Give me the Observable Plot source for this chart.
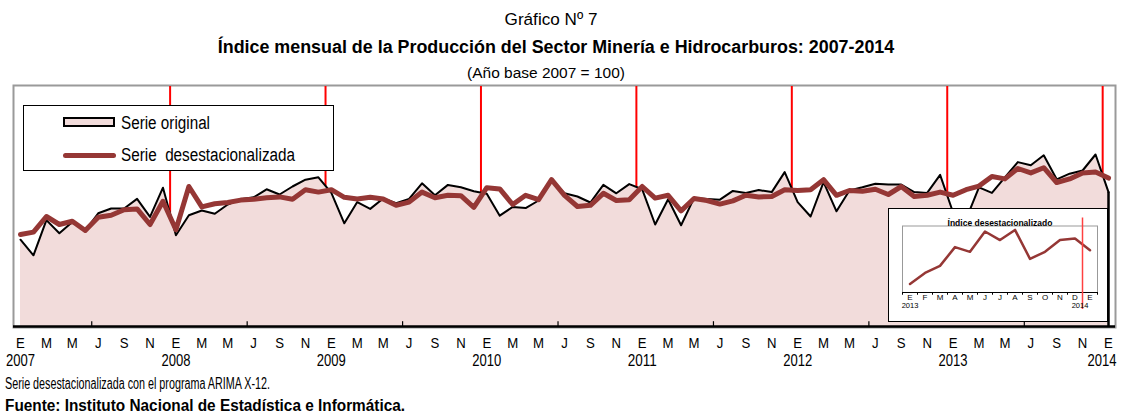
<!DOCTYPE html>
<html><head><meta charset="utf-8">
<script src="https://cdn.jsdelivr.net/npm/d3@7"></script>
<script src="https://cdn.jsdelivr.net/npm/@observablehq/plot@0.6"></script>
<style>
body{margin:0;background:#fff;}
#wrap{position:relative;width:1123px;height:414px;overflow:hidden;font-family:"Liberation Sans Narrow","Arial Narrow","Liberation Sans",Arial,sans-serif;color:#000;}
.t{position:absolute;white-space:pre;line-height:1;}
.c{transform:translate(-50%,-50%);}
.l{transform:translateY(-50%);transform-origin:0 50%;}
#chart{position:absolute;left:0;top:82px;}
#legend{position:absolute;left:23px;top:105px;width:311px;height:66px;border:1px solid #000;background:#fff;box-sizing:border-box;}
#inset{position:absolute;left:888px;top:208px;width:220px;height:114px;border:1.5px solid #000;background:#fff;box-sizing:border-box;}
#inset svg{position:absolute;left:0;top:0;}
</style></head><body>
<div id="wrap">
  <div class="t c" id="g7" style="left:551px;top:20px;font-size:15px">Gráfico Nº 7</div>
  <div class="t c" id="ttl" style="left:556px;top:48px;font-size:18px;font-weight:bold">Índice mensual de la Producción del Sector Minería e Hidrocarburos: 2007-2014</div>
  <div class="t c" id="sub" style="left:546px;top:73px;font-size:15px">(Año base 2007 = 100)</div>
  <div id="chart"></div>
  <div id="legend">
    <div style="position:absolute;left:39px;top:11px;width:52px;height:10px;background:#F2DCDB;border:2.7px solid #000;box-sizing:border-box"></div>
    <div style="position:absolute;left:39px;top:46.5px;width:53px;height:5px;background:#953735;border-radius:3px"></div>
    <div class="t l" id="lg1" style="left:97px;top:17px;font-size:18px">Serie original</div>
    <div class="t l" id="lg2" style="left:97px;top:49px;font-size:18px">Serie  desestacionalizada</div>
  </div>
  <div id="inset"></div>
  <div class="t l" id="cap1" style="left:5px;top:384px;font-size:16px">Serie desestacionalizada con el programa ARIMA X-12.</div>
  <div class="t l" id="cap2" style="left:5px;top:406px;font-size:16px;font-weight:bold">Fuente: Instituto Nacional de Estadística e Informática.</div>
</div>
<script>
// ---- data ----
const startYear = 2007;
const monthLetters = ["E","F","M","A","M","J","J","A","S","O","N","D"];
// Serie original (índice, ene-2007 ... ene-2014)
const original = [
  95.7, 91.8,100.6, 97.3,100.1, 98.0,102.3,103.5,103.5,105.9,101.4,108.7,
  96.8,101.8,103.0,102.2,104.5,105.8,106.3,108.3,107.0,109.0,110.7,111.3,
 107.4, 99.8,105.1,103.4,106.0,104.8,105.9,109.8,106.8,109.4,108.8,107.8,
 107.2,101.7,103.9,103.6,105.5,110.5,107.3,106.5,105.0,109.4,107.3,109.6,
 108.3, 99.5,105.8, 99.3,106.1,105.9,105.7,107.9,107.4,108.1,107.6,112.6,
 105.1,101.5,110.1,102.8,108.0,108.8,109.7,109.5,109.5,107.6,107.4,111.9,
 102.5,100.8,108.8,107.4,111.3,115.1,114.3,116.8,110.8,112.2,113.0,117.0,
 107.6];
// Serie desestacionalizada
const desest = [
  97.0, 97.6,101.5, 99.5,100.3, 98.0,101.3,101.8,103.2,103.4, 99.5,105.3,
  98.2,109.0,103.9,104.7,105.0,105.6,105.8,106.2,106.4,105.8,108.2,107.6,
 108.2,106.3,105.9,106.3,105.9,104.3,105.1,107.6,106.2,106.8,106.7,103.8,
 108.7,108.4,104.5,106.8,105.7,110.7,106.8,104.0,104.3,107.3,105.5,105.7,
 109.0,106.1,106.8,102.9,106.0,105.5,104.6,105.4,106.8,106.4,106.5,108.2,
 108.0,108.2,110.7,106.8,108.0,107.8,108.3,107.0,109.0,106.5,106.8,107.6,
 106.8,108.2,109.1,111.5,110.9,113.5,112.4,113.7,110.0,110.9,112.4,112.6,
 111.1];
const insetTitle = "Índice desestacionalizado";

// ---- derived tables ----
const FONT = '"Liberation Sans Narrow","Arial Narrow","Liberation Sans",Arial,sans-serif';
const data = original.map((v, i) => ({i, orig: v, sa: desest[i]}));
const nMonths = data.length - 1;
const yMin = 74, yMax = 134;
const monthTicks = d3.range(0, nMonths + 1, 2);
const yearTicks = d3.range(0, nMonths, 12);
const yearBreaks = d3.range(12, nMonths + 1, 12).map(d => d - 0.45);
const majorTicks = d3.range(5.5, nMonths, 12);
const last = data[data.length - 1];
const yearLabel = d => String(startYear + d / 12);

const main = Plot.plot({
  width: 1123, height: 290,
  marginLeft: 20, marginRight: 15, marginTop: 4, marginBottom: 46,
  x: {domain: [0, nMonths], axis: null},
  y: {domain: [yMin, yMax], axis: null},
  style: {background: "transparent", overflow: "visible", fontFamily: FONT, color: "#000"},
  marks: [
    Plot.frame({stroke: "#9a9a9a", strokeWidth: 2, insetLeft: -7, insetRight: -7, insetTop: -1, insetBottom: -1}),
    Plot.ruleX(yearBreaks, {x: d => d, stroke: "#ff0000", strokeWidth: 2}),
    Plot.area(data, {x1: "i", y1: () => yMin, y2: "orig", fill: "#F2DCDB"}),
    Plot.line(data, {x: "i", y: "orig", stroke: "#000", strokeWidth: 2}),
    Plot.ruleX([last], {x: "i", y1: () => yMin, y2: "orig", stroke: "#000", strokeWidth: 2.5}),
    Plot.line(data, {x: "i", y: "sa", stroke: "#953735", strokeWidth: 5}),
    Plot.ruleY([yMin], {stroke: "#000", strokeWidth: 2.5, insetLeft: -7, insetRight: -7}),
    Plot.ruleX(majorTicks, {x: d => d, y1: () => yMin, y2: () => yMin + 1.2, stroke: "#000", strokeWidth: 1.2}),
    Plot.text(monthTicks, {x: d => d, text: d => monthLetters[d % 12], frameAnchor: "bottom", dy: 21, fontSize: 15.5}),
    Plot.text(yearTicks, {x: d => d, text: yearLabel, frameAnchor: "bottom", dy: 39, fontSize: 16}),
    Plot.text([nMonths], {x: d => d, text: yearLabel, frameAnchor: "bottom", dy: 39, dx: 8, textAnchor: "end", fontSize: 16})
  ]
});
document.getElementById("chart").appendChild(main);
// condense the tick labels like the narrow font of the reference
main.querySelectorAll("text").forEach(t => {
  const s = t.textContent;
  if (/^\d{4}$/.test(s)) {
    t.setAttribute("textLength", 29); t.setAttribute("lengthAdjust", "spacingAndGlyphs");
  } else if (/^[A-Z]$/.test(s)) {
    const w = t.getComputedTextLength();
    t.setAttribute("textLength", (w * 0.85).toFixed(1)); t.setAttribute("lengthAdjust", "spacingAndGlyphs");
  }
});

// ---- inset ----
const insetData = data.slice(nMonths - 12).map((d, k) => ({k, sa: d.sa}));
const iyMin = 105.7, iyMax = 114.2;
const insetTicks = d3.range(-0.5, 12.6, 1);
const yearOf = k => String(startYear + (nMonths - 12 + k) / 12);
const inset = Plot.plot({
  width: 217, height: 111,
  marginLeft: 13, marginRight: 9, marginTop: 16.5, marginBottom: 28,
  x: {domain: [-0.5, 12.5], axis: null},
  y: {domain: [iyMin, iyMax], axis: null},
  style: {background: "transparent", overflow: "visible", fontFamily: '"Liberation Sans",Arial,sans-serif', color: "#000"},
  marks: [
    Plot.frame({stroke: "#999", strokeWidth: 1}),
    Plot.ruleY([iyMin], {stroke: "#000", strokeWidth: 1.2}),
    Plot.ruleX(insetTicks, {x: d => d, y1: () => iyMin, y2: () => iyMin - 0.35, stroke: "#000", strokeWidth: 1}),
    Plot.line(insetData, {x: "k", y: "sa", stroke: "#953735", strokeWidth: 2.5}),
    Plot.ruleX([11.5], {x: d => d, stroke: "#ff4040", strokeWidth: 1.5, insetTop: -8, insetBottom: -17}),
    Plot.text(insetData, {x: "k", text: d => monthLetters[d.k % 12], frameAnchor: "bottom", dy: 7.5, fontSize: 8}),
    Plot.text([0], {x: d => d, text: yearOf, frameAnchor: "bottom", dy: 15.5, fontSize: 7.5}),
    Plot.text([12], {x: d => d, text: yearOf, frameAnchor: "bottom", dy: 15.5, dx: -10, fontSize: 7.5}),
    Plot.text([insetTitle], {frameAnchor: "top", dy: -6.5, fontSize: 8.5, fontWeight: "bold"})
  ]
});
document.getElementById("inset").appendChild(inset);

// ---- fit header widths (size) and condense left-aligned texts (narrow font look) ----
function fit(id, w) {
  const el = document.getElementById(id);
  const cw = el.getBoundingClientRect().width;
  const fs = parseFloat(getComputedStyle(el).fontSize);
  el.style.fontSize = (fs * w / cw) + "px";
}
function squeeze(id, w) {
  const el = document.getElementById(id);
  const cw = el.getBoundingClientRect().width;
  el.style.transform = "translateY(-50%) scaleX(" + (w / cw) + ")";
}
fit("g7", 93); fit("ttl", 677); fit("sub", 158);
squeeze("cap1", 265); squeeze("cap2", 400);
squeeze("lg1", 89); squeeze("lg2", 174);
</script>
</body></html>
